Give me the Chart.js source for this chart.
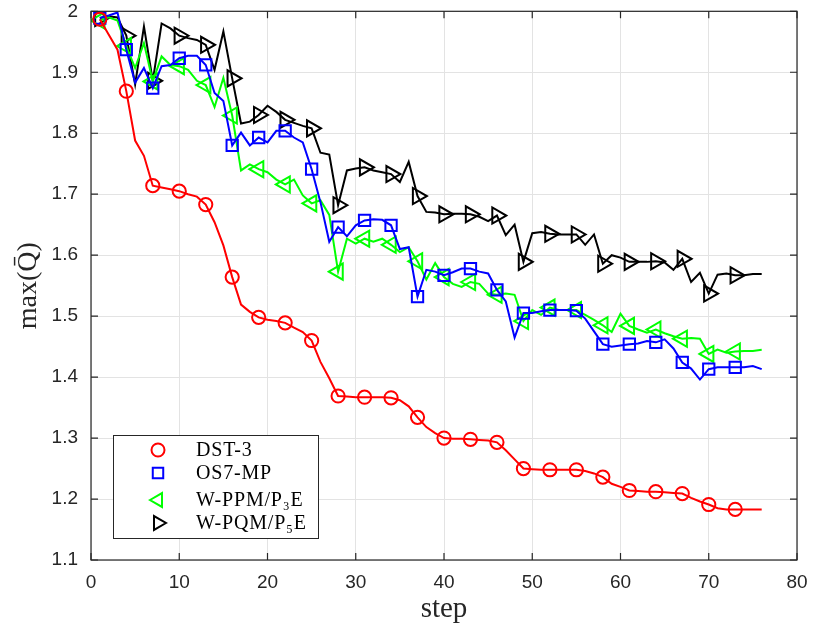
<!DOCTYPE html>
<html>
<head>
<meta charset="utf-8">
<script src="https://cdn.jsdelivr.net/npm/chart.js@4.4.1/dist/chart.umd.min.js"></script>
<style>
  html, body { margin: 0; padding: 0; background: #ffffff; }
  #wrap { width: 813px; height: 635px; }
</style>
</head>
<body>
<div id="wrap"><canvas id="c" width="813" height="635"></canvas></div>
<script>
const steps = [1,2,3,4,5,6,7,8,9,10,11,12,13,14,15,16,17,18,19,20,21,22,23,24,25,26,27,28,29,30,31,32,33,34,35,36,37,38,39,40,41,42,43,44,45,46,47,48,49,50,51,52,53,54,55,56,57,58,59,60,61,62,63,64,65,66,67,68,69,70,71,72,73,74,75,76];

const dst3 = [1.987,1.962,1.937,1.869,1.788,1.763,1.714,1.711,1.708,1.705,1.700,1.696,1.683,1.654,1.616,1.564,1.519,1.507,1.498,1.494,1.492,1.489,1.481,1.474,1.460,1.425,1.398,1.369,1.368,1.367,1.367,1.367,1.367,1.366,1.362,1.352,1.334,1.318,1.308,1.300,1.299,1.299,1.298,1.297,1.296,1.293,1.280,1.265,1.250,1.249,1.248,1.248,1.248,1.248,1.248,1.246,1.242,1.236,1.225,1.220,1.214,1.213,1.212,1.212,1.211,1.210,1.209,1.202,1.196,1.191,1.185,1.183,1.183,1.183,1.183,1.183];

const os7mp = [1.989,1.993,1.998,1.937,1.883,1.907,1.874,1.910,1.912,1.923,1.927,1.927,1.912,1.866,1.853,1.780,1.801,1.780,1.793,1.785,1.804,1.804,1.793,1.785,1.741,1.687,1.622,1.646,1.631,1.649,1.657,1.659,1.658,1.649,1.610,1.613,1.532,1.576,1.573,1.567,1.572,1.578,1.578,1.573,1.570,1.543,1.524,1.465,1.505,1.505,1.508,1.510,1.510,1.510,1.509,1.496,1.475,1.454,1.450,1.452,1.454,1.455,1.459,1.457,1.462,1.447,1.424,1.414,1.396,1.413,1.416,1.416,1.416,1.416,1.418,1.413];

const wppm = [1.985,1.990,1.985,1.943,1.907,1.948,1.885,1.926,1.912,1.910,1.904,1.886,1.879,1.843,1.891,1.829,1.739,1.749,1.741,1.736,1.724,1.716,1.724,1.698,1.685,1.690,1.666,1.573,1.627,1.619,1.627,1.622,1.627,1.617,1.605,1.613,1.590,1.560,1.587,1.564,1.553,1.548,1.556,1.553,1.537,1.535,1.537,1.535,1.492,1.510,1.502,1.514,1.510,1.510,1.510,1.502,1.494,1.485,1.474,1.504,1.484,1.478,1.473,1.478,1.472,1.467,1.463,1.464,1.463,1.438,1.445,1.440,1.442,1.443,1.443,1.445];

const wpqm = [1.989,1.992,1.990,1.960,1.880,1.975,1.886,1.980,1.972,1.960,1.956,1.953,1.945,1.904,1.967,1.890,1.816,1.819,1.830,1.845,1.835,1.822,1.817,1.812,1.808,1.768,1.765,1.682,1.739,1.742,1.744,1.739,1.736,1.733,1.720,1.753,1.697,1.671,1.670,1.667,1.668,1.668,1.667,1.663,1.656,1.665,1.633,1.650,1.589,1.636,1.638,1.635,1.634,1.634,1.634,1.617,1.634,1.586,1.600,1.596,1.589,1.589,1.589,1.590,1.588,1.576,1.594,1.556,1.571,1.537,1.568,1.570,1.567,1.567,1.569,1.569];

const seriesLabels = ['DST-3', 'OS7-MP', 'W-PPM/P\u2083E', 'W-PQM/P\u2085E'];
const xTicks = [0,10,20,30,40,50,60,70,80];
const yTicks = [1.1,1.2,1.3,1.4,1.5,1.6,1.7,1.8,1.9,2];

const AXIS_COLOR = '#262626';
const TICK_FONT = '"Liberation Sans", Arial, sans-serif';
const SERIF = '"Liberation Serif", "Times New Roman", serif';

function pts(vals) { return steps.map((s, i) => ({ x: s, y: vals[i] })); }
function markerRadius(r) { return ctx => (ctx.dataIndex % 3 === 0 && ctx.dataIndex < 73 ? r : 0); }

const styles = [
  { color: '#ff0000', pointStyle: 'circle', r: 6.6, rot: 0 },
  { color: '#0000ff', pointStyle: 'rect', r: 8, rot: 0 },
  { color: '#00ff00', pointStyle: 'triangle', r: 9.3, rot: -90 },
  { color: '#000000', pointStyle: 'triangle', r: 9.3, rot: 90 }
];
const seriesData = [dst3, os7mp, wppm, wpqm];

const datasets = seriesData.map((vals, k) => ({
  label: seriesLabels[k],
  data: pts(vals),
  borderColor: styles[k].color,
  backgroundColor: 'rgba(0,0,0,0)',
  borderWidth: 2,
  pointStyle: styles[k].pointStyle,
  pointRotation: styles[k].rot,
  pointRadius: markerRadius(styles[k].r),
  pointHoverRadius: markerRadius(styles[k].r),
  pointBorderWidth: 2,
  pointBorderColor: styles[k].color,
  pointBackgroundColor: 'rgba(0,0,0,0)',
  tension: 0,
  fill: false
}));

function drawMarker(ctx, style, r, x, y, rot) {
  ctx.beginPath();
  if (style === 'circle') {
    ctx.arc(x, y, r, 0, Math.PI * 2);
  } else if (style === 'rect') {
    const s = Math.SQRT1_2 * r;
    ctx.rect(x - s, y - s, 2 * s, 2 * s);
  } else {
    let rad = rot * Math.PI / 180;
    ctx.moveTo(x + Math.sin(rad) * r, y - Math.cos(rad) * r);
    rad += 2 * Math.PI / 3;
    ctx.lineTo(x + Math.sin(rad) * r, y - Math.cos(rad) * r);
    rad += 2 * Math.PI / 3;
    ctx.lineTo(x + Math.sin(rad) * r, y - Math.cos(rad) * r);
    ctx.closePath();
  }
  ctx.stroke();
}

const framePlugin = {
  id: 'frame',
  afterDraw(chart) {
    const ctx = chart.ctx;
    const a = chart.chartArea;
    const xs = chart.scales.x, ys = chart.scales.y;
    ctx.save();
    ctx.strokeStyle = AXIS_COLOR;
    ctx.lineWidth = 1.2;
    ctx.strokeRect(a.left, a.top, a.right - a.left, a.bottom - a.top);
    const tl = 7;
    ctx.beginPath();
    xTicks.forEach(v => {
      const px = xs.getPixelForValue(v);
      ctx.moveTo(px, a.bottom); ctx.lineTo(px, a.bottom - tl);
      ctx.moveTo(px, a.top); ctx.lineTo(px, a.top + tl);
    });
    yTicks.forEach(v => {
      const py = ys.getPixelForValue(v);
      ctx.moveTo(a.left, py); ctx.lineTo(a.left + tl, py);
      ctx.moveTo(a.right, py); ctx.lineTo(a.right - tl, py);
    });
    ctx.stroke();

    // legend
    const bx = 113, by = 435, bw = 205, bh = 103;
    ctx.fillStyle = '#ffffff';
    ctx.fillRect(bx, by, bw, bh);
    ctx.lineWidth = 1;
    ctx.strokeStyle = AXIS_COLOR;
    ctx.strokeRect(bx + 0.5, by + 0.5, bw, bh);
    const rowsY = [450, 473, 500, 523];
    ctx.font = '20px ' + SERIF;
    try { ctx.letterSpacing = '0.8px'; } catch (e) {}
    ctx.textBaseline = 'middle';
    ctx.textAlign = 'left';
    styles.forEach((s, k) => {
      ctx.strokeStyle = s.color;
      ctx.lineWidth = 2;
      const mr = s.pointStyle === 'triangle' ? 8 : (s.pointStyle === 'rect' ? 7.4 : 6.5);
      drawMarker(ctx, s.pointStyle, mr, 158, rowsY[k], s.rot);
      ctx.fillStyle = '#000000';
      ctx.fillText(seriesLabels[k], 196, rowsY[k] + 1);
    });
    ctx.restore();
  }
};

new Chart(document.getElementById('c'), {
  type: 'line',
  data: { datasets },
  options: {
    responsive: false,
    animation: false,
    devicePixelRatio: 1,
    layout: { padding: { left: 0, right: 16, top: 8, bottom: 0 } },
    plugins: { legend: { display: false }, tooltip: { enabled: false } },
    elements: { line: { borderJoinStyle: 'miter' } },
    scales: {
      x: {
        type: 'linear',
        min: 0, max: 80,
        afterBuildTicks: s => { s.ticks = xTicks.map(v => ({ value: v })); },
        afterFit: s => { s.height = 75; s.paddingLeft = 0; s.paddingRight = 0; },
        grid: { color: '#e3e3e3', lineWidth: 1, drawTicks: false },
        border: { display: false },
        ticks: { color: AXIS_COLOR, font: { family: TICK_FONT, size: 19 }, padding: 11, maxRotation: 0 },
        title: { display: true, text: 'step', color: AXIS_COLOR, font: { family: SERIF, size: 29 }, padding: { top: 0, bottom: 8 } }
      },
      y: {
        type: 'linear',
        min: 1.1, max: 2,
        afterBuildTicks: s => { s.ticks = yTicks.map(v => ({ value: v })); },
        afterFit: s => { s.width = 91; s.paddingTop = 0; s.paddingBottom = 0; },
        grid: { color: '#e3e3e3', lineWidth: 1, drawTicks: false },
        border: { display: false },
        ticks: { color: AXIS_COLOR, font: { family: TICK_FONT, size: 19 }, padding: 13,
                 callback: v => String(Math.round(v * 10) / 10) },
        title: { display: true, text: 'max(Q\u0304)', color: AXIS_COLOR, font: { family: SERIF, size: 28 }, padding: { top: 12, bottom: 0 } }
      }
    }
  },
  plugins: [framePlugin]
});
</script>
</body>
</html>
